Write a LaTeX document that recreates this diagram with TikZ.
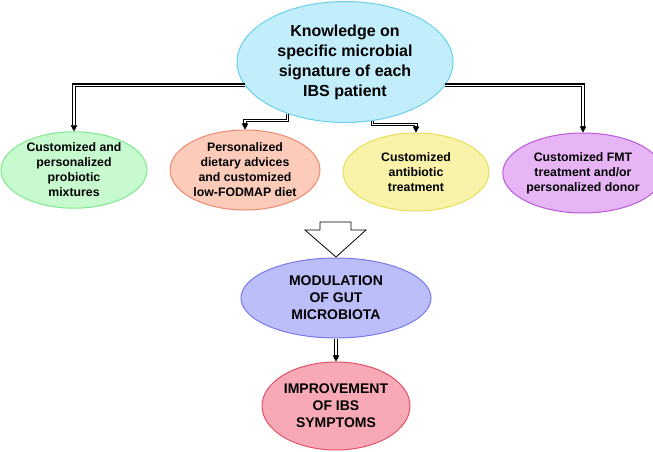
\documentclass[tikz,border=0pt]{standalone}
\usepackage{fontspec}
\setmainfont{Liberation Sans}
\usetikzlibrary{arrows.meta,shapes.geometric}
\definecolor{topF}{HTML}{C2EEFB}\definecolor{topD}{HTML}{6ACFEA}
\definecolor{grF}{HTML}{C8FAD0}\definecolor{grD}{HTML}{80E890}
\definecolor{orF}{HTML}{FDCBB9}\definecolor{orD}{HTML}{EE8A72}
\definecolor{yeF}{HTML}{F8F3A9}\definecolor{yeD}{HTML}{E9DD5A}
\definecolor{puF}{HTML}{E7B5F5}\definecolor{puD}{HTML}{B85AD8}
\definecolor{blF}{HTML}{BCBEF9}\definecolor{blD}{HTML}{7A78EC}
\definecolor{reF}{HTML}{F8A9B5}\definecolor{reD}{HTML}{E2506A}
\begin{document}
\begin{tikzpicture}[x=1pt,y=1pt,
  ell/.style={ellipse, inner sep=0pt, line width=1pt, align=center, font=\bfseries},
  small/.style={font=\fontsize{12.3}{15}\selectfont\bfseries},
  conn/.style={draw=black, line width=3.4pt, line join=miter,
     -{Triangle[length=6pt,width=6.5pt,line width=0.4pt]},
     postaction={draw=white, line width=1.3pt, arrows=-, shorten >=6.5pt}}]
\useasboundingbox (0,0) rectangle (653,451);
\node[ell, fill=topF, draw=topD, minimum width=216, minimum height=121,
  font=\fontsize{16}{20}\selectfont\bfseries] (top) at (345,389)
  {Knowledge on\\specific microbial\\signature of each\\IBS patient};
\node[ell, small, fill=grF, draw=grD, minimum width=146, minimum height=76] (probio) at (74,281)
  {Customized and\\personalized\\probiotic\\mixtures};
\node[ell, small, fill=orF, draw=orD, minimum width=150, minimum height=80] (diet) at (245,281)
  {Personalized\\dietary advices\\and customized\\low-FODMAP diet};
\node[ell, small, fill=yeF, draw=yeD, minimum width=146, minimum height=78] (anti) at (416,279)
  {Customized\\antibiotic\\treatment};
\node[ell, small, fill=puF, draw=puD, minimum width=138, minimum height=80] (fmt) at (583,278)
  {Customized FMT\\treatment and/or\\personalized donor};
\node[ell, fill=blF, draw=blD, minimum width=190, minimum height=80,
  font=\fontsize{14}{17}\selectfont\bfseries] (mod) at (336,153)
  {MODULATION\\OF GUT\\MICROBIOTA};
\node[ell, fill=reF, draw=reD, minimum width=148, minimum height=88,
  font=\fontsize{14}{17}\selectfont\bfseries] (imp) at (336,45)
  {IMPROVEMENT\\OF IBS\\SYMPTOMS};
% connectors
\draw[conn] (top.193) -| (probio.north);
\draw[conn] (top.222) |- ([yshift=9pt]diet.north) -- (diet.north);
\draw[conn] (top.295) |- ([yshift=8pt]anti.north) -- (anti.north);
\draw[conn] (top.347) -| (fmt.north);
\draw[conn] (mod.south) -- (imp.north);
% hollow block arrow
\draw[line width=0.8pt, fill=white, line join=miter]
  (320,229) -- (351,229) -- (351,221) -- (366,221) -- (336,194) -- (305,221) -- (320,221) -- cycle;
\end{tikzpicture}
\end{document}
